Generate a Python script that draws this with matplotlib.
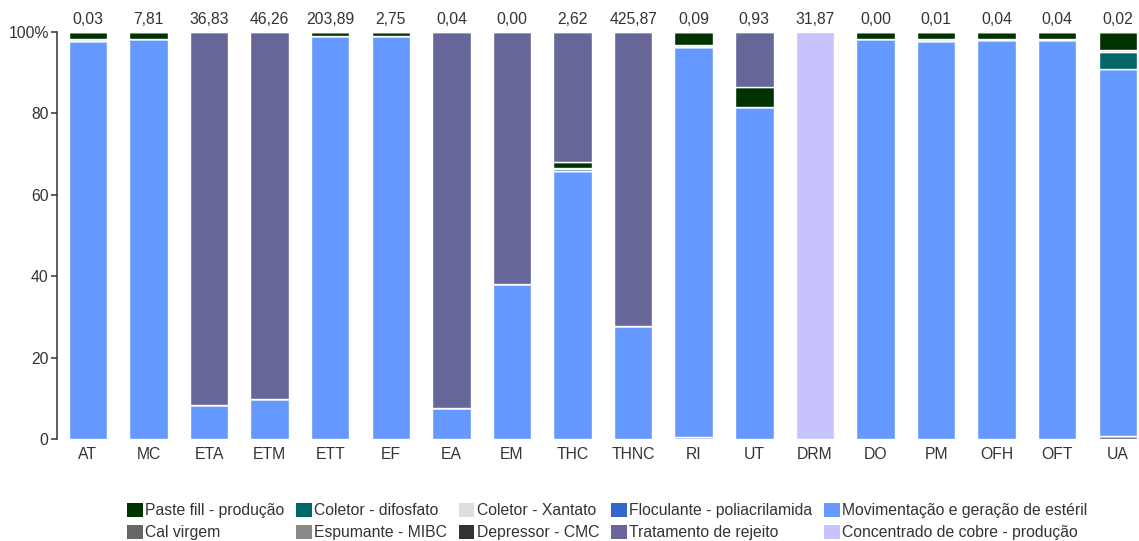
import matplotlib
matplotlib.use("Agg")
import matplotlib.pyplot as plt
from matplotlib.patches import Patch
import numpy as np

plt.rcParams['font.family'] = ['Liberation Sans', 'DejaVu Sans']

# Categories and the total value printed above each bar
categories = ["AT", "MC", "ETA", "ETM", "ETT", "EF", "EA", "EM", "THC", "THNC",
              "RI", "UT", "DRM", "DO", "PM", "OFH", "OFT", "UA"]
totals = [0.03, 7.81, 36.83, 46.26, 203.89, 2.75, 0.04, 0.00, 2.62, 425.87,
          0.09, 0.93, 31.87, 0.00, 0.01, 0.04, 0.04, 0.02]

# Share (%) of each contribution per category
cal_virgem = [0, 0, 0, 0, 0, 0, 0, 0, 0, 0, 0.5, 0, 0, 0, 0, 0, 0, 0.7]
espumante = [0] * 18
depressor = [0] * 18
movimentacao = [97.8, 98.3, 8.4, 9.8, 98.9, 98.9, 7.5, 38.0, 65.8, 27.8,
                95.7, 81.5, 0, 98.3, 97.9, 98.1, 98.1, 90.3]
floculante = [0] * 18
coletor_difosfato = [0, 0, 0, 0, 0, 0, 0, 0, 0.6, 0, 0, 0, 0, 0, 0, 0, 0, 4.2]
coletor_xantato = [0.6, 0, 0, 0, 0, 0, 0, 0, 0.3, 0, 0.6, 0, 0, 0, 0.5, 0.2, 0.2, 0.3]
paste_fill = [1.6, 1.7, 0, 0, 1.1, 1.1, 0, 0, 1.4, 0, 3.2, 4.9, 0, 1.7, 1.6, 1.7, 1.7, 4.5]
tratamento = [0, 0, 91.6, 90.2, 0, 0, 92.5, 62.0, 31.9, 72.2, 0, 13.6, 0, 0, 0, 0, 0, 0]
concentrado = [0, 0, 0, 0, 0, 0, 0, 0, 0, 0, 0, 0, 100, 0, 0, 0, 0, 0]

# Series in stacking order (bottom to top): label, values, colour
series = [
    ("Cal virgem", cal_virgem, "#666666"),
    ("Espumante - MIBC", espumante, "#888888"),
    ("Depressor - CMC", depressor, "#333333"),
    ("Movimentação e geração de estéril", movimentacao, "#6699ff"),
    ("Floculante - poliacrilamida", floculante, "#3366cc"),
    ("Coletor - difosfato", coletor_difosfato, "#006666"),
    ("Coletor - Xantato", coletor_xantato, "#dddddd"),
    ("Paste fill - produção", paste_fill, "#003300"),
    ("Tratamento de rejeito", tratamento, "#666699"),
    ("Concentrado de cobre - produção", concentrado, "#c6c3ff"),
]

# Legend reading order (row by row, five per row)
legend_rows = [
    ["Paste fill - produção", "Coletor - difosfato", "Coletor - Xantato",
     "Floculante - poliacrilamida", "Movimentação e geração de estéril"],
    ["Cal virgem", "Espumante - MIBC", "Depressor - CMC",
     "Tratamento de rejeito", "Concentrado de cobre - produção"],
]

text_color = "#333333"
W, H = 1139, 541
fig = plt.figure(figsize=(W / 100, H / 100), dpi=100)
ax = fig.add_axes([57 / W, (H - 439) / H, (W - 57) / W, 407 / H])

x = np.arange(len(categories))
bottom = np.zeros(len(categories))
colors = {}
for label, vals, col in series:
    v = np.array(vals, dtype=float)
    ax.bar(x, v, bottom=bottom, width=0.635, color=col, edgecolor="white",
           linewidth=1.0, label=label)
    bottom += v
    colors[label] = col

for xi, t, top in zip(x, totals, bottom):
    ax.annotate(f"{t:.2f}".replace(".", ","), xy=(xi, top), xytext=(0, 5.6),
                textcoords="offset points", ha="center", va="baseline",
                fontsize=11.3, color=text_color, annotation_clip=False)

ax.set_xlim(-0.51, len(categories) - 1 + 0.35)
ax.set_ylim(0, 100)
ax.set_xticks(x)
ax.set_xticklabels(categories)
ax.set_yticks([0, 20, 40, 60, 80, 100])
ax.set_yticklabels(["0", "20", "40", "60", "80", "100%"])
ax.tick_params(axis="x", length=0, pad=5.5, labelsize=11.3, colors=text_color)
ax.tick_params(axis="y", length=4.5, width=1.1, pad=1.5, labelsize=11.3,
               colors=text_color)
for s in ["top", "right", "bottom"]:
    ax.spines[s].set_visible(False)
ax.spines["left"].set_color(text_color)
ax.spines["left"].set_linewidth(1.1)

# Column-major ordering so the legend reads row by row
handles, labels = [], []
for c in range(5):
    for r in range(2):
        name = legend_rows[r][c]
        handles.append(Patch(facecolor=colors[name], edgecolor="none"))
        labels.append(name)
fig.legend(handles, labels, ncol=5, loc="upper left",
           bbox_to_anchor=(127 / W, (H - 503) / H), frameon=False,
           fontsize=11.3, handlelength=1.0, handleheight=1.0,
           handletextpad=0.15, columnspacing=0.75, labelspacing=0.4,
           borderpad=0, borderaxespad=0, labelcolor=text_color)

fig.savefig("out.png", dpi=100)
